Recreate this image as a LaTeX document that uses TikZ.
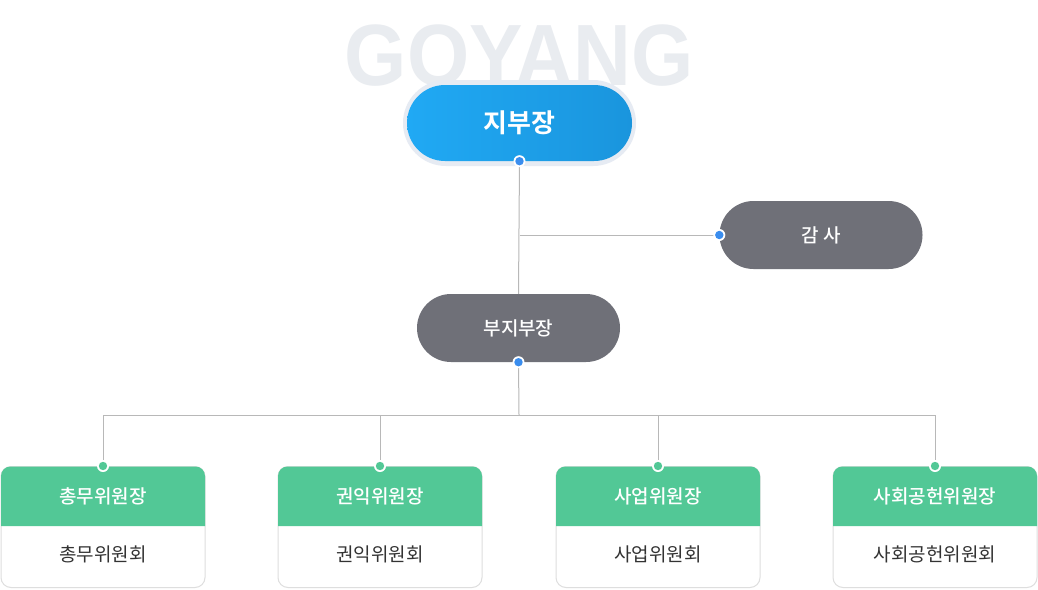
\documentclass[tikz,border=0pt]{standalone}
\usepackage{fontspec}
\usepackage{graphicx}
\setmainfont{Liberation Sans}
\newfontfamily\kr{Noto Sans CJK KR}[BoldFont=* Bold]
\newfontfamily\krm{Noto Sans CJK KR Medium}
\newfontfamily\wm{Liberation Sans}
\definecolor{wmark}{HTML}{E9ECF0}
\definecolor{halo}{HTML}{E6EBF3}
\definecolor{blueL}{HTML}{20A9F4}
\definecolor{blueR}{HTML}{1A95DD}
\definecolor{pillgray}{HTML}{6F7078}
\definecolor{hdrgreen}{HTML}{52C896}
\definecolor{linegray}{HTML}{B8B8B8}
\definecolor{boxborder}{HTML}{DEDEDE}
\definecolor{dotblue}{HTML}{3A8DEE}
\definecolor{bodytext}{HTML}{333333}
\tikzset{
  conn/.style={draw=linegray, line width=1pt},
  graypill/.style={fill=pillgray, rounded corners=34pt, minimum width=203pt, minimum height=68pt, inner sep=0pt, text=white, font=\krm\fontsize{19}{22}\selectfont},
  orgbox/.style={draw=boxborder, line width=1pt, fill=white, rounded corners=10pt, minimum width=204pt, minimum height=121pt, inner sep=0pt},
  hdrtext/.style={text=white, font=\krm\fontsize{19}{22}\selectfont},
  bodytxt/.style={text=bodytext, font=\kr\fontsize{19}{22}\selectfont},
}
\newcommand{\bluedot}[1]{\fill[white] (#1) circle (6pt); \fill[dotblue] (#1) circle (4.2pt);}
\newcommand{\greendot}[1]{\fill[white] (#1) circle (6pt); \fill[hdrgreen] (#1) circle (4.2pt);}
\begin{document}
\begin{tikzpicture}[x=1pt,y=-1pt]
\useasboundingbox[fill=white] (0,0) rectangle (1038,589);
% watermark
\node (wm) [anchor=base, text=wmark, inner sep=0pt] at (519,85) {\scalebox{0.92}[1]{\wm\bfseries\fontsize{87}{90}\selectfont GOYANG}};
% top pill
\node (jbhalo) [fill=halo, rounded corners=43pt, minimum width=233pt, minimum height=86pt, inner sep=0pt] at (519.5,123) {};
\node (jb) [left color=blueL, right color=blueR, rounded corners=38pt, minimum width=225pt, minimum height=76pt, inner sep=0pt, text=white, font=\kr\bfseries\fontsize{26}{30}\selectfont] at (519.5,123) {지부장};
% audit and vice
\node (gs) [graypill] at (821,235) {감 사};
\node (bj) [graypill] at (518.5,328) {부지부장};
% boxes
\foreach \i/\x/\h/\b in {1/103/총무위원장/총무위원회, 2/380/권익위원장/권익위원회, 3/658/사업위원장/사업위원회, 4/935/사회공헌위원장/사회공헌위원회}{
  \node (box\i) [orgbox] at (\x,527) {};
  \fill[hdrgreen] ([xshift=0.5pt]box\i.west |- 0,526) [rounded corners=9.5pt] -- ([shift={(0.5pt,-0.5pt)}]box\i.north west) -- ([shift={(-0.5pt,-0.5pt)}]box\i.north east) [sharp corners] -- ([xshift=-0.5pt]box\i.east |- 0,526) -- cycle;
  \node (hd\i) [hdrtext] at (\x,496.5) {\h};
  \node (bd\i) [bodytxt] at (\x,554) {\b};
}
% connectors
\coordinate (bus) at (519,415);
\draw[conn] (jb.south) -- (bj.north);
\draw[conn] (jb.south |- gs.west) -- (gs.west);
\draw[conn] (bj.south) -- (bus);
\draw[conn] (bus) -| (box1.north);
\draw[conn] (bus) -| (box2.north);
\draw[conn] (bus) -| (box3.north);
\draw[conn] (bus) -| (box4.north);
% dots
\bluedot{jb.south}
\bluedot{gs.west}
\bluedot{bj.south}
\greendot{box1.north}
\greendot{box2.north}
\greendot{box3.north}
\greendot{box4.north}
\end{tikzpicture}
\end{document}
